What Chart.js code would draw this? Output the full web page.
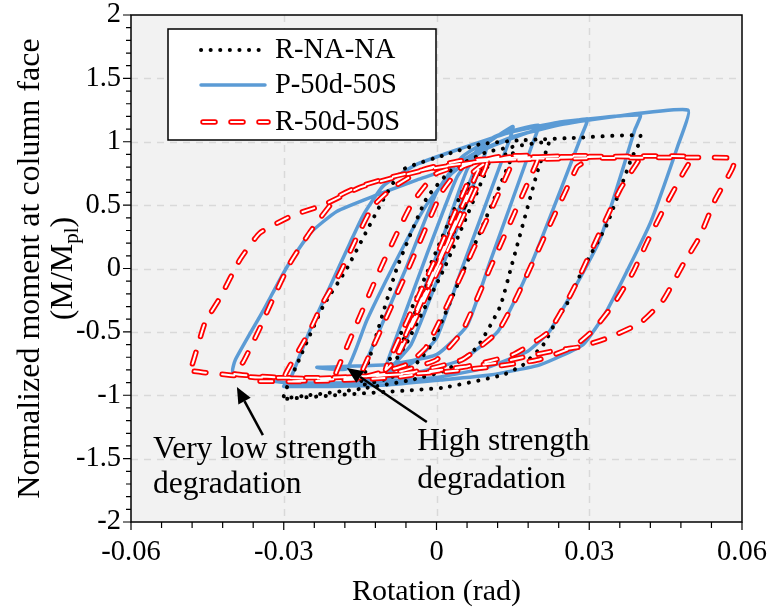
<!DOCTYPE html>
<html>
<head>
<meta charset="utf-8">
<script src="https://cdn.jsdelivr.net/npm/chart.js@4.4.1/dist/chart.umd.min.js"></script>
<style>
  html, body { margin: 0; padding: 0; background: #fff; }
  #wrap { width: 774px; height: 616px; }
</style>
</head>
<body>
<div id="wrap"><canvas id="hystChart" width="774" height="616"></canvas></div>
<script>
// values: [rotation (rad), M/Mpl]
const seriesNames = ["R-NA-NA", "P-50d-50S", "R-50d-50S"];

const rnaLoops = [
  [0, 0], [0.004, 0.38], [-0.004, -0.38], [0.005, 0.47], [-0.005, -0.47],
  [0.0075, 0.66], [-0.0075, -0.66], [-0.0005, 0], [0.006, 0.6], [0.008, 0.72], [0.01, 0.8],
  [0.009, 0.7], [0.0015, 0], [-0.006, -0.6], [-0.008, -0.72], [-0.01, -0.8],
  [-0.009, -0.7], [-0.0015, 0], [0.005, 0.6], [0.008, 0.75], [0.011, 0.85], [0.015, 0.92],
  [0.0145, 0.85], [0.0055, 0], [-0.001, -0.6], [-0.004, -0.75], [-0.009, -0.86], [-0.015, -0.92],
  [-0.014, -0.82], [-0.0078, 0], [-0.002, 0.55], [0.003, 0.78], [0.01, 0.92], [0.022, 1.0],
  [0.0215, 0.92], [0.0203, 0.83], [0.0146, 0], [0.0125, -0.3], [0.008, -0.62], [0.002, -0.8],
  [-0.005, -0.88], [-0.015, -0.95], [-0.025, -1.0], [-0.03, -1.02],
  [-0.0295, -0.95], [-0.027, -0.72], [-0.0223, -0.3], [-0.0176, 0], [-0.0105, 0.54], [-0.0066, 0.78],
  [0.002, 0.9], [0.0085, 0.98], [0.016, 1.01], [0.0268, 1.03], [0.04, 1.05],
  [0.0395, 0.96], [0.0384, 0.88], [0.0335, 0.35], [0.0288, 0], [0.0256, -0.28], [0.0237, -0.4],
  [0.021, -0.6], [0.017, -0.76], [0.013, -0.84], [0.0013, -0.94], [-0.0087, -0.97], [-0.02, -1.0], [-0.03, -1.03]
];

const p50Loops = [
  [0, 0], [0.0075, 0.78], [-0.0075, -0.72],
  [0, 0.1], [0.006, 0.78], [0.01, 1.0],
  [0.0095, 0.9], [0.001, 0], [-0.005, -0.6], [-0.01, -0.82],
  [-0.0095, -0.72], [-0.002, 0.1], [0.004, 0.72], [0.008, 0.93], [0.015, 1.12],
  [0.0142, 1.0], [0.005, 0], [0, -0.55], [-0.005, -0.75], [-0.015, -0.88],
  [-0.014, -0.75], [-0.006, 0], [0, 0.6], [0.005, 0.88], [0.012, 1.05], [0.02, 1.13],
  [0.019, 1.0], [0.0105, 0.05], [0.006, -0.45], [0, -0.68], [-0.01, -0.76], [-0.0235, -0.78],
  [-0.0176, -0.79], [-0.0137, -0.41], [-0.0068, 0.15], [-0.002, 0.5], [0.003, 0.75], [0.01, 0.95], [0.02, 1.1], [0.0296, 1.18],
  [0.0285, 1.05], [0.0203, 0.2], [0.016, -0.2], [0.012, -0.5], [0.005, -0.72], [-0.005, -0.83], [-0.015, -0.9], [-0.03, -0.93],
  [-0.0288, -0.88], [-0.025, -0.5], [-0.021, -0.15], [-0.017, 0.2], [-0.0144, 0.42], [-0.0105, 0.65], [-0.004, 0.82],
  [0.005, 0.95], [0.015, 1.08], [0.025, 1.16], [0.04, 1.21],
  [0.039, 1.1], [0.032, 0.22], [0.0223, -0.49], [0.018, -0.65], [0.01, -0.78], [0, -0.86], [-0.015, -0.9], [-0.03, -0.9], [-0.04, -0.82],
  [-0.0395, -0.72], [-0.034, -0.33], [-0.0294, 0.01], [-0.0248, 0.28], [-0.0196, 0.45], [-0.0117, 0.58], [-0.0038, 0.7],
  [0.002, 0.78], [0.008, 0.92], [0.015, 1.04], [0.025, 1.14], [0.035, 1.2], [0.0494, 1.25],
  [0.0475, 0.98], [0.042, 0.36], [0.0335, -0.33], [0.0288, -0.6], [0.0203, -0.76], [0.0105, -0.84], [0.0007, -0.88],
  [-0.01, -0.92], [-0.021, -0.93], [-0.03, -0.93]
];

const r50Loops = [
  [0, 0], [0.004, 0.38], [-0.004, -0.36], [0.005, 0.46], [-0.005, -0.45], [0.0075, 0.68], [-0.0075, -0.66],
  [0.0085, 0.8], [0.01, 0.85],
  [0.0095, 0.78], [0.0005, 0], [-0.008, -0.72], [-0.01, -0.8],
  [-0.0095, -0.74], [-0.0005, 0.05], [0.007, 0.75], [0.01, 0.84], [0.015, 0.88],
  [0.0145, 0.8], [0.0055, 0], [-0.002, -0.62], [-0.006, -0.76], [-0.015, -0.86],
  [-0.0145, -0.8], [-0.0055, 0], [0.001, 0.6], [0.005, 0.8], [0.012, 0.88], [0.02, 0.89],
  [0.0195, 0.82], [0.0105, 0], [0.005, -0.5], [0, -0.72], [-0.008, -0.82], [-0.02, -0.87],
  [-0.0195, -0.8], [-0.011, 0], [-0.005, 0.5], [0, 0.75], [0.01, 0.86], [0.03, 0.89],
  [0.0295, 0.85], [0.0276, 0.8], [0.0158, -0.22], [0.012, -0.5], [0.005, -0.72], [-0.005, -0.82], [-0.015, -0.86], [-0.03, -0.89],
  [-0.0295, -0.82], [-0.025, -0.5], [-0.0223, -0.27], [-0.019, -0.04], [-0.0156, 0.25], [-0.0125, 0.49], [-0.0085, 0.64],
  [-0.0026, 0.78], [0.005, 0.85], [0.02, 0.88], [0.04, 0.88],
  [0.0395, 0.84], [0.036, 0.62], [0.0268, -0.17], [0.022, -0.5], [0.015, -0.68], [0.005, -0.78], [-0.01, -0.84], [-0.025, -0.87], [-0.04, -0.83],
  [-0.038, -0.74], [-0.0347, -0.47], [-0.0327, -0.29], [-0.0288, 0.04], [-0.0248, 0.29], [-0.0196, 0.56], [-0.0156, 0.64],
  [-0.009, 0.72], [0, 0.8], [0.01, 0.85], [0.03, 0.88], [0.05, 0.88],
  [0.0484, 0.75], [0.0445, 0.46], [0.0415, 0.22], [0.0386, -0.03], [0.035, -0.27], [0.0307, -0.49], [0.0268, -0.62],
  [0.02, -0.72], [0.01, -0.78], [0, -0.82], [-0.02, -0.86], [-0.035, -0.86], [-0.0458, -0.82], [-0.049, -0.8],
  [-0.048, -0.76], [-0.0455, -0.43], [-0.0425, -0.23], [-0.0386, 0.07], [-0.0347, 0.28], [-0.0282, 0.42], [-0.0223, 0.5],
  [-0.015, 0.64], [-0.009, 0.71], [-0.002, 0.78], [0.01, 0.85], [0.03, 0.87], [0.0586, 0.87],
  [0.058, 0.78], [0.0547, 0.54], [0.0517, 0.25], [0.0484, 0.03], [0.0445, -0.25], [0.04, -0.43], [0.0335, -0.55],
  [0.028, -0.62], [0.0243, -0.64], [0.017, -0.7], [0.0125, -0.74], [0.0046, -0.78], [-0.0085, -0.86], [-0.025, -0.89], [-0.036, -0.89]
];

const xTicks = [-0.06, -0.03, 0, 0.03, 0.06];
const yTicks = [-2, -1.5, -1, -0.5, 0, 0.5, 1, 1.5, 2];

// notes under the loops: [text, rotation, moment] (left edge / baseline)
const noteLines = [
  ["Very low strength", -0.0557, -1.495],
  ["degradation", -0.0557, -1.771],
  ["High strength", -0.0038, -1.432],
  ["degradation", -0.0038, -1.732]
];
// arrows: [tail rot, tail mom, tip rot, tip mom]
const noteArrows = [
  [-0.0341, -1.314, -0.0392, -0.935],
  [-0.0019, -1.211, -0.0176, -0.785]
];

const FONT = '"Liberation Serif", "Times New Roman", serif';
const BLUE = "#5b9bd5";
const RED = "#ff0000";
const toPts = (arr) => arr.map((p) => ({ x: p[0], y: p[1] }));

// little line styles, shared by datasets and the hand drawn legend
const styles = {
  rna: { color: "#000", width: 4, dash: [0.1, 9.5] },
  p50: { color: BLUE, width: 3.5, dash: [] },
  r50: { color: RED, width: 5.5, dash: [12, 16] },
  r50in: { color: "#fff", width: 2, dash: [12, 16] }
};

function strokeSeg(ctx, s, x1, y1, x2, y2) {
  ctx.save();
  ctx.strokeStyle = s.color;
  ctx.lineWidth = s.width;
  ctx.lineCap = "round";
  ctx.setLineDash(s.dash);
  ctx.beginPath();
  ctx.moveTo(x1, y1);
  ctx.lineTo(x2, y2);
  ctx.stroke();
  ctx.restore();
}

const paperLook = {
  id: "paperLook",
  beforeDatasetsDraw(chart) {
    const { ctx, chartArea: a } = chart;
    const sx = chart.scales.x, sy = chart.scales.y;
    ctx.save();
    ctx.fillStyle = "#f2f2f2";
    ctx.fillRect(a.left, a.top, a.right - a.left, a.bottom - a.top);
    ctx.strokeStyle = "#d9d9d9";
    ctx.lineWidth = 1.5;
    ctx.setLineDash([7, 6]);
    ctx.beginPath();
    xTicks.slice(1, -1).forEach((v) => {
      const px = Math.round(sx.getPixelForValue(v)) + 0.5;
      ctx.moveTo(px, a.top);
      ctx.lineTo(px, a.bottom);
    });
    yTicks.slice(1, -1).forEach((v) => {
      const py = Math.round(sy.getPixelForValue(v)) + 0.5;
      ctx.moveTo(a.left, py);
      ctx.lineTo(a.right, py);
    });
    ctx.stroke();
    ctx.restore();
  },
  afterDatasetsDraw(chart) {
    const { ctx, chartArea: a } = chart;
    const sx = chart.scales.x, sy = chart.scales.y;
    ctx.save();

    // frame + tick marks
    ctx.strokeStyle = "#000";
    ctx.lineWidth = 1.5;
    ctx.strokeRect(a.left, a.top, a.right - a.left, a.bottom - a.top);
    ctx.lineWidth = 1.2;
    ctx.beginPath();
    for (let k = -10; k <= 10; k++) {
      const px = sx.getPixelForValue(k * 0.006);
      const len = k % 5 === 0 ? 8 : 6;
      ctx.moveTo(px, a.bottom);
      ctx.lineTo(px, a.bottom + len);
    }
    for (let k = -20; k <= 20; k++) {
      const py = sy.getPixelForValue(k * 0.1);
      const len = k % 5 === 0 ? 8 : 5;
      ctx.moveTo(a.left - len, py);
      ctx.lineTo(a.left, py);
    }
    ctx.stroke();

    // legend box
    const lx = 168, ly = 29, lw = 268, lh = 111;
    ctx.fillStyle = "#fff";
    ctx.fillRect(lx, ly, lw, lh);
    ctx.strokeStyle = "#000";
    ctx.lineWidth = 1.5;
    ctx.strokeRect(lx, ly, lw, lh);
    const rows = [50, 85, 122];
    strokeSeg(ctx, styles.rna, 201, rows[0], 265, rows[0]);
    strokeSeg(ctx, styles.p50, 201, rows[1], 265, rows[1]);
    strokeSeg(ctx, styles.r50, 203, rows[2], 268, rows[2]);
    strokeSeg(ctx, styles.r50in, 203, rows[2], 268, rows[2]);
    ctx.fillStyle = "#000";
    ctx.font = "28.5px " + FONT;
    ctx.textAlign = "left";
    ctx.textBaseline = "middle";
    seriesNames.forEach((n, i) => ctx.fillText(n, 275, rows[i] + 1));

    // notes and arrows
    ctx.font = "31.5px " + FONT;
    ctx.textBaseline = "alphabetic";
    noteLines.forEach(([t, r, m]) => ctx.fillText(t, sx.getPixelForValue(r), sy.getPixelForValue(m)));
    noteArrows.forEach(([r1, m1, r2, m2]) => {
      const x1 = sx.getPixelForValue(r1), y1 = sy.getPixelForValue(m1);
      const x2 = sx.getPixelForValue(r2), y2 = sy.getPixelForValue(m2);
      const ang = Math.atan2(y2 - y1, x2 - x1);
      const hl = 16, hw = 7;
      const bx = x2 - hl * Math.cos(ang), by = y2 - hl * Math.sin(ang);
      ctx.strokeStyle = "#000";
      ctx.lineWidth = 2.5;
      ctx.setLineDash([]);
      ctx.beginPath();
      ctx.moveTo(x1, y1);
      ctx.lineTo(bx, by);
      ctx.stroke();
      ctx.beginPath();
      ctx.moveTo(x2, y2);
      ctx.lineTo(bx + hw * Math.sin(ang), by - hw * Math.cos(ang));
      ctx.lineTo(bx - hw * Math.sin(ang), by + hw * Math.cos(ang));
      ctx.closePath();
      ctx.fill();
    });

    // y axis title, two lines with subscript
    const cy = (a.top + a.bottom) / 2;
    ctx.save();
    ctx.translate(31, cy);
    ctx.rotate(-Math.PI / 2);
    ctx.textAlign = "center";
    ctx.textBaseline = "middle";
    ctx.font = "32px " + FONT;
    ctx.fillText("Normalized moment at column face", 0, 0);
    ctx.restore();

    ctx.save();
    ctx.translate(64, cy);
    ctx.rotate(-Math.PI / 2);
    ctx.textBaseline = "middle";
    ctx.textAlign = "left";
    const bigF = "32px " + FONT, subF = "21px " + FONT;
    ctx.font = bigF;
    const w1 = ctx.measureText("(M/M").width, w3 = ctx.measureText(")").width;
    ctx.font = subF;
    const w2 = ctx.measureText("pl").width;
    let tx = -(w1 + w2 + w3) / 2;
    ctx.font = bigF;
    ctx.fillText("(M/M", tx, 0);
    tx += w1;
    ctx.font = subF;
    ctx.fillText("pl", tx, 8);
    tx += w2;
    ctx.font = bigF;
    ctx.fillText(")", tx, 0);
    ctx.restore();

    ctx.restore();
  }
};

const ctx = document.getElementById("hystChart").getContext("2d");
new Chart(ctx, {
  type: "scatter",
  data: {
    datasets: [
      { label: seriesNames[2] + " inner", data: toPts(r50Loops), showLine: true, pointRadius: 0,
        borderColor: styles.r50in.color, borderWidth: styles.r50in.width, borderDash: styles.r50in.dash,
        borderCapStyle: "round", tension: 0.15, order: 0 },
      { label: seriesNames[2], data: toPts(r50Loops), showLine: true, pointRadius: 0,
        borderColor: styles.r50.color, borderWidth: styles.r50.width, borderDash: styles.r50.dash,
        borderCapStyle: "round", tension: 0.15, order: 1 },
      { label: seriesNames[0], data: toPts(rnaLoops), showLine: true, pointRadius: 0,
        borderColor: styles.rna.color, borderWidth: styles.rna.width, borderDash: styles.rna.dash,
        borderCapStyle: "round", tension: 0.15, order: 2 },
      { label: seriesNames[1], data: toPts(p50Loops), showLine: true, pointRadius: 0,
        borderColor: styles.p50.color, borderWidth: styles.p50.width,
        borderJoinStyle: "round", tension: 0.15, order: 3 }
    ]
  },
  options: {
    responsive: false,
    animation: false,
    devicePixelRatio: 1,
    layout: { padding: { top: 15, right: 32, left: 0, bottom: 0 } },
    plugins: { legend: { display: false }, tooltip: { enabled: false } },
    scales: {
      x: {
        type: "linear", min: -0.06, max: 0.06,
        afterBuildTicks: (s) => { s.ticks = xTicks.map((v) => ({ value: v })); },
        afterFit: (s) => { s.height = 94; s.paddingLeft = 0; s.paddingRight = 0; },
        grid: { display: false, drawTicks: false },
        border: { display: false },
        ticks: { padding: 13, color: "#000", font: { family: FONT, size: 28.5 }, maxRotation: 0, autoSkip: false,
          callback: (v) => String(+Number(v).toFixed(2)) },
        title: { display: true, text: "Rotation (rad)", color: "#000", font: { family: FONT, size: 30 }, padding: { top: 0, bottom: 6 } }
      },
      y: {
        type: "linear", min: -2, max: 2,
        afterBuildTicks: (s) => { s.ticks = yTicks.map((v) => ({ value: v })); },
        afterFit: (s) => { s.width = 131; s.paddingTop = 0; s.paddingBottom = 0; },
        grid: { display: false, drawTicks: false },
        border: { display: false },
        ticks: { padding: 10, color: "#000", font: { family: FONT, size: 28.5 }, autoSkip: false,
          callback: (v) => String(+Number(v).toFixed(1)) }
      }
    }
  },
  plugins: [paperLook]
});
</script>
</body>
</html>
